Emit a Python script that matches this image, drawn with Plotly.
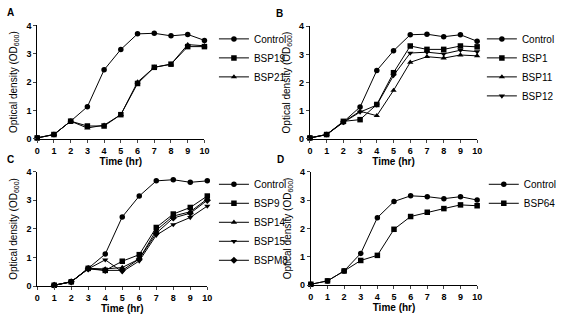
import plotly.graph_objects as go

W, H = 562, 326
hours = [0, 1, 2, 3, 4, 5, 6, 7, 8, 9, 10]
hours_c = [1, 2, 3, 4, 5, 6, 7, 8, 9, 10]

# Panel A
a_control = [0.03, 0.15, 0.62, 1.13, 2.43, 3.15, 3.70, 3.72, 3.63, 3.68, 3.47]
a_bsp19 = [0.03, 0.15, 0.62, 0.45, 0.45, 0.85, 1.95, 2.52, 2.63, 3.25, 3.25]
a_bsp21 = [0.03, 0.15, 0.62, 0.38, 0.48, 0.85, 2.00, 2.52, 2.63, 3.32, 3.28]
# Panel B
b_control = [0.03, 0.15, 0.60, 1.13, 2.43, 3.13, 3.70, 3.72, 3.63, 3.70, 3.47]
b_bsp1 = [0.03, 0.15, 0.62, 0.68, 1.22, 2.35, 3.30, 3.18, 3.18, 3.30, 3.27]
b_bsp11 = [0.03, 0.15, 0.60, 0.98, 0.82, 1.72, 2.72, 2.92, 2.87, 2.98, 2.95]
b_bsp12 = [0.03, 0.15, 0.58, 0.95, 1.20, 2.25, 3.05, 3.08, 3.02, 3.15, 3.10]
# Panel C
c_control = [0.03, 0.15, 0.62, 1.12, 2.42, 3.15, 3.68, 3.72, 3.63, 3.68]
c_bsp9 = [0.03, 0.15, 0.62, 0.55, 0.87, 1.10, 2.05, 2.52, 2.75, 3.15]
c_bsp14 = [0.03, 0.15, 0.62, 0.60, 0.65, 0.95, 1.95, 2.45, 2.60, 3.05]
c_bsp15 = [0.03, 0.15, 0.60, 0.92, 0.50, 0.88, 1.78, 2.15, 2.40, 2.80]
c_bspm8 = [0.03, 0.15, 0.60, 0.55, 0.55, 0.95, 1.85, 2.38, 2.55, 3.00]
# Panel D
d_control = [0.03, 0.15, 0.50, 1.12, 2.38, 2.95, 3.15, 3.12, 3.05, 3.12, 3.00]
d_bsp64 = [0.03, 0.15, 0.50, 0.87, 1.05, 1.97, 2.42, 2.57, 2.70, 2.83, 2.80]

FONT = "Liberation Sans, Arial, sans-serif"

panels = [
    ("A", "x", "y", "legend", (36, 212, 21, 138), hours,
     [("Control", a_control, "circle"), ("BSP19", a_bsp19, "square"), ("BSP21", a_bsp21, "triangle-up")],
     (222, 20)),
    ("B", "x2", "y2", "legend2", (323, 499, 22, 138), hours,
     [("Control", b_control, "circle"), ("BSP1", b_bsp1, "square"), ("BSP11", b_bsp11, "triangle-up"),
      ("BSP12", b_bsp12, "triangle-down")],
     (504, 20)),
    ("C", "x3", "y3", "legend3", (36, 215, 172, 290), hours_c,
     [("Control", c_control, "circle"), ("BSP9", c_bsp9, "square"), ("BSP14", c_bsp14, "triangle-up"),
      ("BSP15", c_bsp15, "triangle-down"), ("BSPM8", c_bspm8, "diamond")],
     (222, 170)),
    ("D", "x4", "y4", "legend4", (324, 499, 172, 289), hours,
     [("Control", d_control, "circle"), ("BSP64", d_bsp64, "square")],
     (506, 170)),
]

fig = go.Figure()
layout = dict(
    width=W, height=H, margin=dict(l=0, r=0, t=0, b=0),
    paper_bgcolor="white", plot_bgcolor="white",
    font=dict(family=FONT, color="black", size=9),
    annotations=[],
)

for letter, xa, ya, lg, (l, r, t, b), xs, series, (lx, ly) in panels:
    for name, vals, sym in series:
        fig.add_trace(go.Scatter(
            x=xs, y=vals, name=name, mode="lines+markers",
            line=dict(color="black", width=1),
            marker=dict(symbol=sym, size=5.5, color="black"),
            xaxis=xa, yaxis=ya, legend=lg, cliponaxis=False,
        ))
    xkey = "xaxis" + xa[1:]
    ykey = "yaxis" + ya[1:]
    layout[xkey] = dict(
        domain=[l / W, r / W], anchor=ya, range=[0, 10],
        tickvals=list(range(11)), ticks="outside", ticklen=3, tickwidth=1,
        showline=True, linecolor="black", linewidth=1, showgrid=False, zeroline=False,
        tickfont=dict(size=9, family=FONT, weight="bold"),
        title=dict(text="<b>Time (hr)</b>", font=dict(size=10), standoff=2),
    )
    layout[ykey] = dict(
        domain=[1 - b / H, 1 - t / H], anchor=xa, range=[0, 4],
        tickvals=[0, 1, 2, 3, 4], ticks="outside", ticklen=3, tickwidth=1,
        showline=True, linecolor="black", linewidth=1, showgrid=False, zeroline=False,
        tickfont=dict(size=9, family=FONT, weight="bold"),
        title=dict(text="Optical density (OD<sub>600</sub>)", font=dict(size=10), standoff=6),
    )
    layout[lg] = dict(
        x=lx / W, y=1 - ly / H, xanchor="left", yanchor="top",
        bgcolor="rgba(0,0,0,0)", font=dict(size=10, family=FONT),
        tracegroupgap=0, itemwidth=30, itemsizing="trace",
    )
    layout["annotations"].append(dict(
        text="<b>" + letter + "</b>", x=(l - 34) / W if letter in "AC" else (l - 38) / W,
        y=1 - (t - 13) / H, xref="paper", yref="paper", showarrow=False,
        xanchor="left", yanchor="middle", font=dict(size=10, family=FONT),
    ))

fig.update_layout(**layout)
fig.write_html("out.html")
